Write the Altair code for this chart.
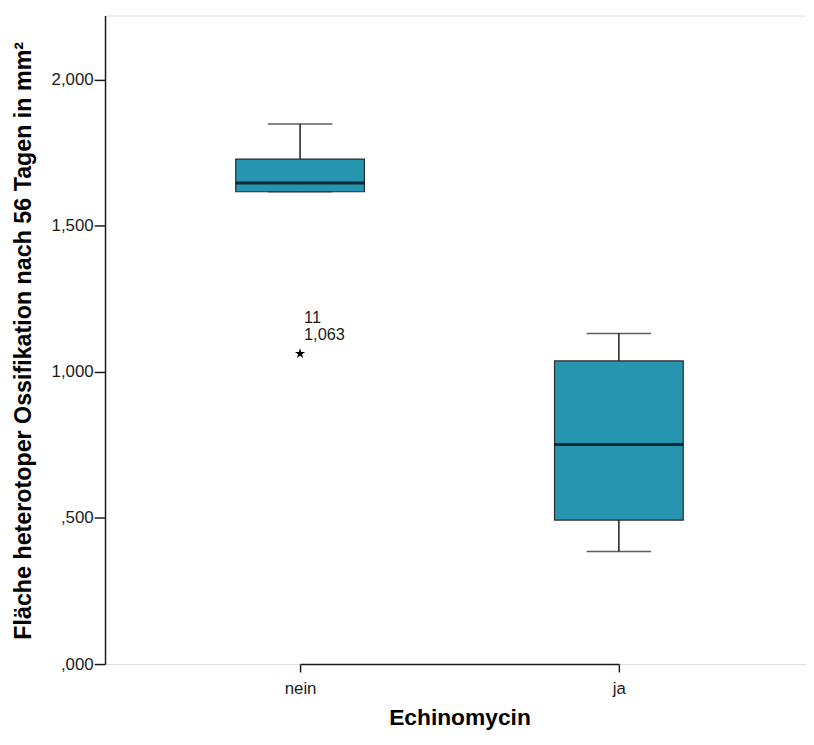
import altair as alt
import pandas as pd

categories = ["nein", "ja"]
whisker_low = [1.617, 0.385]
q1 = [1.617, 0.493]
median = [1.647, 0.752]
q3 = [1.729, 1.038]
whisker_high = [1.849, 1.132]

outlier_cat = ["nein"]
outlier_value = [1.063]
outlier_id = ["11"]
outlier_label = ["1,063"]

y_ticks = [0, 0.5, 1.0, 1.5, 2.0]

box_df = pd.DataFrame({
    "cat": categories, "lo": whisker_low, "q1": q1, "med": median,
    "q3": q3, "hi": whisker_high,
})
out_df = pd.DataFrame({
    "cat": outlier_cat, "val": outlier_value, "id": outlier_id, "lab": outlier_label,
})

FONT = "Liberation Sans"
COLOR = "#2595b0"
INK = "#1a1a1a"

x_enc = alt.X(
    "cat:N",
    scale=alt.Scale(type="point", domain=categories, range=[197, 519], padding=0),
    axis=alt.Axis(
        title="Echinomycin", labelAngle=0, labelFontSize=17, labelColor=INK,
        labelFont=FONT, labelPadding=9, tickSize=8, tickColor=INK, tickWidth=1.5,
        domainColor=INK, domainWidth=1.5, grid=False, titleFont=FONT, titleFontSize=23,
        titleFontWeight="bold", titleColor="black", titleX=358, titleY=61,
        titleAlign="center", titleBaseline="alphabetic",
    ),
)
y_scale = alt.Scale(domain=[0, 2.2203], nice=False, zero=True)
y_axis = alt.Axis(
    title="Fläche heterotoper Ossifikation nach 56 Tagen in mm²",
    values=y_ticks,
    labelExpr="datum.value < 1 ? ',' + substring(format(datum.value, '.3f'), 2) : replace(format(datum.value, '.3f'), '.', ',')",
    labelFontSize=17, labelColor=INK, labelFont=FONT, labelPadding=1,
    tickSize=11, tickColor=INK, tickWidth=1.5, domainColor=INK, domainWidth=1.5, grid=False,
    titleFont=FONT, titleFontSize=23.5, titleFontWeight="bold", titleColor="black",
    titleX=-75, titleY=328, titleAlign="center", titleBaseline="alphabetic", titleAngle=-90,
)

base = alt.Chart(box_df)

whisk = base.mark_rule(color=INK, strokeWidth=1.5).encode(
    x=x_enc, y=alt.Y("lo:Q", scale=y_scale, axis=y_axis), y2="hi:Q"
)
box = base.mark_bar(size=130, color=COLOR, stroke="#2b2b2b", strokeWidth=1.2).encode(
    x="cat:N", y="q1:Q", y2="q3:Q"
)
med = base.mark_tick(size=130, thickness=3, color="black", orient="horizontal").encode(
    x="cat:N", y="med:Q"
)
cap_hi = base.mark_tick(size=65, thickness=1.5, color=INK, orient="horizontal").encode(
    x="cat:N", y="hi:Q"
)
cap_lo = base.mark_tick(size=65, thickness=1.5, color=INK, orient="horizontal").encode(
    x="cat:N", y="lo:Q"
)

star_path = "M0,-1L0.2245,-0.309L0.951,-0.309L0.363,0.118L0.588,0.809L0,0.382L-0.588,0.809L-0.363,0.118L-0.951,-0.309L-0.2245,-0.309Z"
obase = alt.Chart(out_df)
star = obase.mark_point(shape=star_path, filled=True, color="black", size=120, opacity=1).encode(
    x="cat:N", y="val:Q"
)
t_id = obase.mark_text(align="left", baseline="middle", dx=4, dy=-36, fontSize=16.5,
                       font=FONT, color=INK).encode(x="cat:N", y="val:Q", text="id:N")
t_lab = obase.mark_text(align="left", baseline="middle", dx=4, dy=-19, fontSize=16.5,
                        font=FONT, color=INK).encode(x="cat:N", y="val:Q", text="lab:N")

chart = alt.layer(whisk, cap_hi, cap_lo, box, med, star, t_id, t_lab).properties(
    width=708, height=655,
    autosize=alt.AutoSizeParams(type="none"),
    padding={"left": 98, "top": 4, "right": 0, "bottom": 66},
).configure_view(stroke=None).configure(background="white")

chart.save("out.html", embed_options={"renderer": "svg", "actions": False})
